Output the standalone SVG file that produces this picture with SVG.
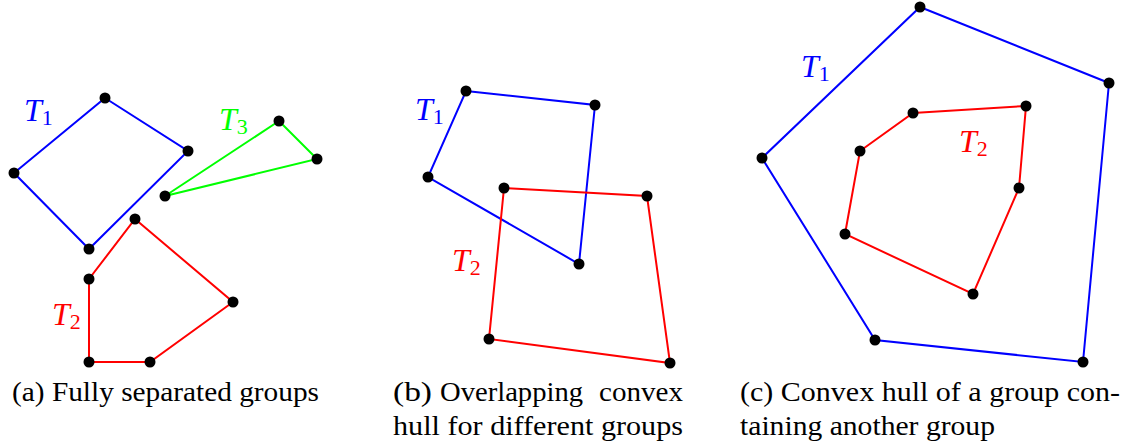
<svg xmlns="http://www.w3.org/2000/svg" width="1128" height="444" viewBox="0 0 1128 444">
<style>
.b{fill:none;stroke:#0000ff;stroke-width:2}
.r{fill:none;stroke:#ff0000;stroke-width:2}
.g{fill:none;stroke:#00ff00;stroke-width:2}
.pt{fill:#000}
.lbl{font-family:'Liberation Serif','Times New Roman',Tinos,serif;font-style:italic;font-size:32px}
.sub{font-style:normal;font-size:22px}
.cap{font-family:'Liberation Serif','Times New Roman',Tinos,serif;font-size:27px;fill:#000}
</style>
<rect width="1128" height="444" fill="#fff"/>
<g id="connectors">
<polygon class="b" points="105,98 188,151 89,249 14,173"/>
<polygon class="g" points="279,121 317,159 165,196"/>
<polygon class="r" points="135,219 233,302 150,362 89,362 89,279"/>
<polygon class="b" points="466,91 595,105 579,264 428,177"/>
<polygon class="r" points="504,188 647,196 670,363 489,339"/>
<polygon class="b" points="920,7 1109,83 1083,362 875,340 762,158"/>
<polygon class="r" points="913,113 1026,106 1019,188 973,294 845,234 860,151"/>
</g>
<g id="panel-a">
<g class="pt">
<circle cx="105" cy="98" r="5.5"/><circle cx="188" cy="151" r="5.5"/><circle cx="89" cy="249" r="5.5"/><circle cx="14" cy="173" r="5.5"/>
<circle cx="279" cy="121" r="5.5"/><circle cx="317" cy="159" r="5.5"/><circle cx="165" cy="196" r="5.5"/>
<circle cx="135" cy="219" r="5.5"/><circle cx="233" cy="302" r="5.5"/><circle cx="150" cy="362" r="5.5"/><circle cx="89" cy="362" r="5.5"/><circle cx="89" cy="279" r="5.5"/>
</g>
<text class="lbl" x="24" y="121" fill="#0000ff">T<tspan class="sub" dy="4">1</tspan></text>
<text class="lbl" x="219" y="130" fill="#00ff00">T<tspan class="sub" dy="4">3</tspan></text>
<text class="lbl" x="52" y="325" fill="#ff0000">T<tspan class="sub" dy="4">2</tspan></text>
<text class="cap" x="12" y="401" textLength="307" lengthAdjust="spacingAndGlyphs">(a) Fully separated groups</text>
</g>
<g id="panel-b">
<g class="pt">
<circle cx="466" cy="91" r="5.5"/><circle cx="595" cy="105" r="5.5"/><circle cx="579" cy="264" r="5.5"/><circle cx="428" cy="177" r="5.5"/>
<circle cx="504" cy="188" r="5.5"/><circle cx="647" cy="196" r="5.5"/><circle cx="670" cy="363" r="5.5"/><circle cx="489" cy="339" r="5.5"/>
</g>
<text class="lbl" x="415" y="120" fill="#0000ff">T<tspan class="sub" dy="4">1</tspan></text>
<text class="lbl" x="452" y="271" fill="#ff0000">T<tspan class="sub" dy="4">2</tspan></text>
<text class="cap" x="393" y="401" textLength="39" lengthAdjust="spacingAndGlyphs">(b)</text>
<text class="cap" x="440" y="401" textLength="143" lengthAdjust="spacingAndGlyphs">Overlapping</text>
<text class="cap" x="599" y="401" textLength="84" lengthAdjust="spacingAndGlyphs">convex</text>
<text class="cap" x="393" y="435" textLength="290" lengthAdjust="spacingAndGlyphs">hull for different groups</text>
</g>
<g id="panel-c">
<g class="pt">
<circle cx="920" cy="7" r="5.5"/><circle cx="1109" cy="83" r="5.5"/><circle cx="1083" cy="362" r="5.5"/><circle cx="875" cy="340" r="5.5"/><circle cx="762" cy="158" r="5.5"/>
<circle cx="913" cy="113" r="5.5"/><circle cx="1026" cy="106" r="5.5"/><circle cx="1019" cy="188" r="5.5"/><circle cx="973" cy="294" r="5.5"/><circle cx="845" cy="234" r="5.5"/><circle cx="860" cy="151" r="5.5"/>
</g>
<text class="lbl" x="801" y="77" fill="#0000ff">T<tspan class="sub" dy="4">1</tspan></text>
<text class="lbl" x="959" y="152" fill="#ff0000">T<tspan class="sub" dy="4">2</tspan></text>
<text class="cap" x="740" y="401" textLength="380" lengthAdjust="spacingAndGlyphs">(c) Convex hull of a group con-</text>
<text class="cap" x="740" y="435" textLength="255" lengthAdjust="spacingAndGlyphs">taining another group</text>
</g>
</svg>
